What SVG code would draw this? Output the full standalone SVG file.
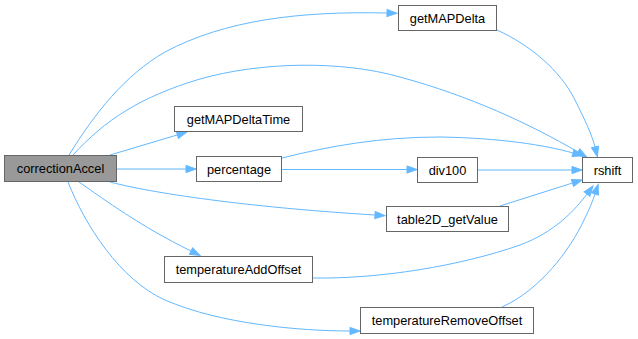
<svg xmlns="http://www.w3.org/2000/svg" width="638" height="339" viewBox="0 0 638 339">
  <defs>
    <marker id="arrow" markerUnits="userSpaceOnUse" markerWidth="10" markerHeight="8" refX="0" refY="3.6" orient="auto" overflow="visible">
      <path d="M0,0 L10,3.6 L0,7.2 z" fill="#63b8ff" stroke="#63b8ff" stroke-width="1"/>
    </marker>
    <style>
      .node rect { fill: #ffffff; stroke: #666666; stroke-width: 1; }
      .node.root rect { fill: #999999; }
      .node text { font-family: "Liberation Sans", Arial, Helvetica, sans-serif; font-size: 12.8px; fill: #000000; text-anchor: middle; }
      .edges path { fill: none; stroke: #63b8ff; stroke-width: 1; marker-end: url(#arrow); }
    </style>
  </defs>
  <rect width="638" height="339" fill="#ffffff"/>

  <g class="edges" id="edges">
    <!-- correctionAccel -> getMAPDelta -->
    <path d="M69,155 C95,113 125,75 165,52 C225,20 300,11 387,13"/>
    <!-- correctionAccel -> rshift -->
    <path d="M73,155 C105,120 140,97 200,79 C260,62 340,60 400,77 C470,96 530,124 578,152"/>
    <!-- correctionAccel -> getMAPDeltaTime -->
    <path d="M110,155 L177.4,134.9"/>
    <!-- correctionAccel -> percentage -->
    <path d="M117,169 L186,169"/>
    <!-- correctionAccel -> table2D_getValue -->
    <path d="M110,182 C160,195 260,208 375,215"/>
    <!-- correctionAccel -> temperatureAddOffset -->
    <path d="M79,182 C105,200 140,226 191,251"/>
    <!-- correctionAccel -> temperatureRemoveOffset -->
    <path d="M68,182 C85,225 120,280 165,300 C220,324 300,331 350,331"/>
    <!-- getMAPDelta -> rshift -->
    <path d="M497,30 C530,45 560,70 575,100 C585,120 592,135 595,147"/>
    <!-- percentage -> rshift -->
    <path d="M282,158 C330,146 380,137 440,137 C500,138 545,145 573,153"/>
    <!-- percentage -> div100 -->
    <path d="M282,169.5 L407,169.5"/>
    <!-- div100 -> rshift -->
    <path d="M477,170 L572,170"/>
    <!-- table2D_getValue -> rshift -->
    <path d="M500,206 L572.5,183"/>
    <!-- temperatureAddOffset -> rshift -->
    <path d="M313,278 C380,279 460,266 520,245 C555,232 575,210 587,194"/>
    <!-- temperatureRemoveOffset -> rshift -->
    <path d="M502,307 C540,290 570,250 584,220 C590,208 593,200 595,194"/>
  </g>

  <g class="node root" id="node-correctionAccel">
    <rect x="4.5" y="155.5" width="112" height="26"/>
    <text x="60.5" y="173">correctionAccel</text>
  </g>
  <g class="node" id="node-getMAPDelta">
    <rect x="398.5" y="5.5" width="98" height="25"/>
    <text x="447.5" y="22.5">getMAPDelta</text>
  </g>
  <g class="node" id="node-getMAPDeltaTime">
    <rect x="174.5" y="106.5" width="128" height="25"/>
    <text x="238.5" y="123.5">getMAPDeltaTime</text>
  </g>
  <g class="node" id="node-percentage">
    <rect x="196.5" y="156.5" width="85" height="25"/>
    <text x="239" y="173.5">percentage</text>
  </g>
  <g class="node" id="node-div100">
    <rect x="417.5" y="157.5" width="60" height="25"/>
    <text x="447.5" y="174.5">div100</text>
  </g>
  <g class="node" id="node-rshift">
    <rect x="582.5" y="157.5" width="50" height="25"/>
    <text x="607.5" y="174.5">rshift</text>
  </g>
  <g class="node" id="node-table2D_getValue">
    <rect x="386.5" y="206.5" width="122" height="25"/>
    <text x="447.5" y="223.5">table2D_getValue</text>
  </g>
  <g class="node" id="node-temperatureAddOffset">
    <rect x="164.5" y="256.5" width="148" height="26"/>
    <text x="238.5" y="274">temperatureAddOffset</text>
  </g>
  <g class="node" id="node-temperatureRemoveOffset">
    <rect x="360.5" y="307.5" width="173" height="26"/>
    <text x="447" y="325">temperatureRemoveOffset</text>
  </g>
</svg>
